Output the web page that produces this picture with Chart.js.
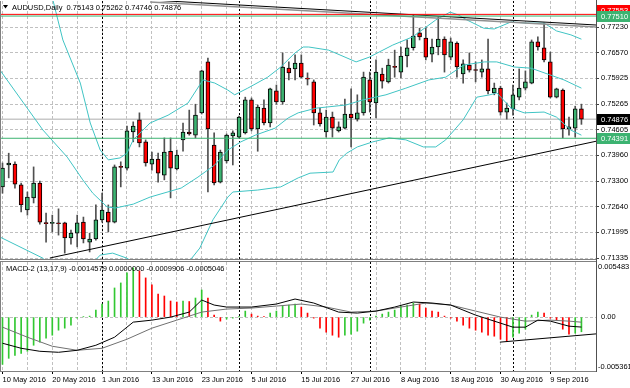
<!DOCTYPE html>
<html lang="en">
<head>
<meta charset="UTF-8">
<title>AUDUSD Daily</title>
<script src="https://cdn.jsdelivr.net/npm/chart.js"></script>
<style>
  html, body { margin: 0; padding: 0; background: #fff; }
  #wrap { position: relative; width: 630px; height: 388px; overflow: hidden; background: #fff; }
  #wrap canvas { position: absolute; left: 0; }
  #priceCanvas { top: 0; }
  #macdCanvas { top: 260px; }
</style>
</head>
<body>
<div id="wrap">
  <canvas id="priceCanvas" width="630" height="260"></canvas>
  <canvas id="macdCanvas" width="630" height="128"></canvas>
</div>
<script>
// daily candles, 10 May 2016 .. 16 Sep 2016 (bar index 0..93)
const opens = [
  0.7315,0.7371,0.7373,0.7320,0.7256,0.7287,0.7325,0.7224,0.7222,0.7223,
  0.7223,0.7185,0.7197,0.7225,0.7174,0.7182,0.7231,0.7251,0.7225,0.7366,
  0.7363,0.7455,0.7486,0.7430,0.7373,0.7386,0.7345,0.7406,0.7361,0.7435,
  0.7455,0.7447,0.7504,0.7634,0.7422,0.7327,0.7381,0.7445,0.7442,0.7453,
  0.7537,0.7463,0.7516,0.7478,0.7560,0.7532,0.7618,0.7616,0.7631,0.7593,
  0.7583,0.7504,0.7455,0.7493,0.7458,0.7465,0.7501,0.7488,0.7504,0.7588,
  0.7529,0.7603,0.7583,0.7621,0.7608,0.7649,0.7670,0.7708,0.7695,0.7654,
  0.7672,0.7692,0.7646,0.7682,0.7603,0.7626,0.7613,0.7608,0.7616,0.7555,
  0.7567,0.7506,0.7514,0.7544,0.7567,0.7580,0.7685,0.7670,0.7634,0.7544,
  0.7562,0.7463,0.7465,0.75143
];
const highs = [
  0.7376,0.7401,0.7379,0.7325,0.7302,0.7366,0.7330,0.7248,0.7243,0.7259,
  0.7225,0.7205,0.7243,0.7238,0.7197,0.7269,0.7299,0.7269,0.7371,0.7379,
  0.7470,0.7481,0.7504,0.7435,0.7404,0.7401,0.7440,0.7440,0.7409,0.7478,
  0.7511,0.7526,0.7613,0.7644,0.7453,0.7409,0.7450,0.7458,0.7496,0.7544,
  0.7542,0.7524,0.7537,0.7567,0.7575,0.7657,0.7634,0.7652,0.7652,0.7606,
  0.7588,0.7516,0.7511,0.7506,0.7481,0.7539,0.7565,0.7550,0.7608,0.7608,
  0.7639,0.7618,0.7641,0.7664,0.7672,0.7690,0.7754,0.7720,0.7723,0.7692,
  0.7748,0.7698,0.7695,0.7685,0.7639,0.7657,0.7634,0.7639,0.7692,0.7580,
  0.7572,0.7529,0.7575,0.7616,0.7611,0.7690,0.7698,0.7733,0.7659,0.7567,
  0.7565,0.7493,0.7521,0.75262
];
const lows = [
  0.7299,0.7338,0.7312,0.7251,0.7243,0.7274,0.7220,0.7174,0.7200,0.7192,
  0.7146,0.7169,0.7162,0.7172,0.7149,0.7179,0.7225,0.7200,0.7223,0.7315,
  0.7358,0.7430,0.7417,0.7368,0.7358,0.7327,0.7333,0.7287,0.7358,0.7406,
  0.7447,0.7440,0.7501,0.7302,0.7320,0.7325,0.7376,0.7371,0.7440,0.7450,
  0.7458,0.7406,0.7473,0.7468,0.7526,0.7526,0.7588,0.7588,0.7593,0.7575,
  0.7473,0.7470,0.7442,0.7442,0.7455,0.7463,0.7417,0.7483,0.7498,0.7506,
  0.7491,0.7567,0.7580,0.7595,0.7593,0.7621,0.7664,0.7690,0.7639,0.7634,
  0.7652,0.7608,0.7639,0.7595,0.7580,0.7608,0.7583,0.7595,0.7552,0.7550,
  0.7498,0.7488,0.7498,0.7537,0.7562,0.7578,0.7664,0.7634,0.7542,0.7542,
  0.7440,0.7447,0.7442,0.74746
];
const closes = [
  0.7363,0.7376,0.7322,0.7269,0.7289,0.7325,0.7225,0.7221,0.7224,0.7221,
  0.7185,0.7197,0.7223,0.7182,0.7182,0.7231,0.7256,0.7225,0.7366,0.7365,
  0.7458,0.7470,0.7427,0.7376,0.7386,0.7350,0.7404,0.7363,0.7396,0.7455,
  0.7450,0.7498,0.7611,0.7463,0.7325,0.7404,0.7447,0.7453,0.7493,0.7537,
  0.7463,0.7519,0.7478,0.7565,0.7532,0.7621,0.7606,0.7631,0.7595,0.7590,
  0.7504,0.7476,0.7493,0.7465,0.7468,0.7501,0.7491,0.7504,0.7595,0.7532,
  0.7608,0.7585,0.7626,0.7620,0.7649,0.7670,0.7700,0.7698,0.7646,0.7672,
  0.7692,0.7652,0.7685,0.7621,0.7629,0.7613,0.7612,0.7616,0.7560,0.7567,
  0.7506,0.7516,0.7550,0.7567,0.7583,0.7685,0.7672,0.7639,0.7544,0.7565,
  0.7463,0.7468,0.7514,0.74876
];

// date labels, one every 8 bars
const dateTickBars = [0, 8, 16, 24, 32, 40, 48, 56, 64, 72, 80, 88];
const dateTicks = ['10 May 2016', '20 May 2016', '1 Jun 2016', '13 Jun 2016', '23 Jun 2016', '5 Jul 2016',
  '15 Jul 2016', '27 Jul 2016', '8 Aug 2016', '18 Aug 2016', '30 Aug 2016', '9 Sep 2016'];
const monthStartBars = [16, 38, 59, 82];
const priceTicks = [0.77230, 0.76570, 0.75925, 0.75265, 0.74605, 0.73960, 0.73300, 0.72640, 0.71995, 0.71335];

// bollinger bands, [bar, price]
const bbUpper = [[-0.4,0.8040],[4,0.7880],[8.1,0.7792],[9.7,0.7690],[12.5,0.7580],[14.1,0.7478],[15.7,0.7409],
  [17,0.7384],[18.9,0.7389],[20,0.7401],[21,0.7435],[23.7,0.7478],[26.6,0.7498],[29.8,0.7529],[32.2,0.7588],
  [34.1,0.7580],[36.2,0.7562],[37.3,0.7550],[39.4,0.7567],[42.6,0.7595],[44.7,0.7621],[47,0.7657],[48.3,0.7672],
  [49.2,0.7672],[52.4,0.7664],[56.8,0.7634],[58.9,0.7646],[62.7,0.7677],[65.9,0.7698],[69.6,0.7741],[71.9,0.7761],
  [73.2,0.7754],[74.6,0.7741],[77.3,0.7720],[79,0.7718],[81.7,0.7736],[84.3,0.7733],[87,0.7733],[89,0.7713],
  [91.3,0.7703],[93,0.7692]];
const bbMiddle = [[-0.4,0.7613],[6.5,0.7460],[10.4,0.7391],[12.9,0.7333],[14.5,0.7299],[16.8,0.7264],[18.1,0.7261],
  [21,0.7271],[23.7,0.7289],[28.7,0.7312],[31.4,0.7340],[34.1,0.7371],[36.2,0.7409],[38.3,0.7430],[40.6,0.7447],
  [43.8,0.7465],[45.9,0.7491],[47.5,0.7504],[50.4,0.7516],[55.2,0.7524],[57.9,0.7537],[61.6,0.7550],[64.8,0.7567],
  [68.5,0.7588],[71.2,0.7595],[74.1,0.7626],[77.4,0.7634],[79.4,0.7634],[82.2,0.7621],[84.9,0.7618],[88.1,0.7600],
  [90.2,0.7588],[93,0.7567]];
const bbLower = [[-0.4,0.7187],[6.5,0.7133],[9,0.7090],[12,0.7080],[15.7,0.7141],[17.7,0.7146],[20,0.7133],
  [23,0.7100],[27,0.7080],[30.4,0.7133],[31.7,0.7159],[33.8,0.7231],[36.2,0.7289],[37,0.7302],[41,0.7307],
  [44.7,0.7315],[47.5,0.7338],[49.4,0.7350],[53.1,0.7353],[54.1,0.7384],[55.3,0.7401],[57,0.7417],[59.5,0.7430],
  [62.1,0.7440],[64.8,0.7435],[67.6,0.7417],[69.6,0.7417],[71.2,0.7435],[74,0.7486],[76.2,0.7544],[78.3,0.7550],
  [79.4,0.7555],[81.7,0.7516],[83.8,0.7504],[87,0.7506],[89,0.7493],[91.3,0.7460],[93,0.7447]];

// drawn objects
const levelRed = 0.77553;
const levelGreenTop = 0.77510;
const levelGreenLow = 0.74391;
const supportLine = [[7.6, 0.71335], [95.5, 0.7432]];
const resistLine = [[23.7, 0.7792], [95.5, 0.7728]];
const resistLine2 = [[23.7, 0.7787], [95.5, 0.7723]];

// MACD-2 (13,17,9)
const histValues = [
  -0.0047,-0.0041,-0.0038,-0.0036,-0.0034,-0.0028,-0.0025,-0.0021,-0.0018,-0.0013,
  -0.0011,-0.0008,-0.0001,0.00003,0.0001,0.0007,0.0013,0.0016,0.0029,0.0034,
  0.0044,0.0049,0.0046,0.0039,0.0032,0.0023,0.0021,0.0016,0.0015,0.0016,
  0.00155,0.0019,0.0027,0.0019,0.0002,-0.0004,-0.0002,-0.0001,0.00002,0.0006,
  0.0003,0.0001,0.00005,0.0004,0.0006,0.0011,0.0012,0.0013,0.0010,0.0004,
  -0.0001,-0.0011,-0.0015,-0.0018,-0.0020,-0.0018,-0.0017,-0.0014,-0.0006,-0.0003,
  0.0001,0.0003,0.0005,0.0007,0.0011,0.0012,0.0014,0.0013,0.0009,0.0006,
  0.0005,0.0001,-0.0001,-0.0004,-0.0008,-0.0011,-0.0013,-0.0015,-0.0018,-0.0019,
  -0.0022,-0.0024,-0.0020,-0.0016,-0.0012,0.0002,0.0005,0.0004,-0.0001,-0.0003,
  -0.0012,-0.0017,-0.0016,-0.0014579
];
const macdMain = [[0,-0.0026],[3,-0.0031],[6,-0.0034],[9,-0.0035],[12,-0.0033],[15,-0.0028],[18,-0.0020],
  [21,-0.0005],[24,-0.0003],[27,0.0000],[30,0.0005],[32,0.0017],[34,0.0012],[36,0.0010],[40,0.0010],[44,0.0013],
  [47,0.0018],[50,0.0014],[54,0.0005],[57,0.0004],[60,0.0006],[63,0.0010],[66,0.0015],[69,0.0014],[72,0.0012],
  [76,0.0002],[80,-0.0006],[82,-0.0010],[84,-0.0010],[86,-0.0003],[88,-0.0004],[91,-0.0009],[93,-0.0009906]];
const macdSignal = [[0,-0.0010],[4,-0.0020],[8,-0.0029],[12,-0.0033],[16,-0.0031],[20,-0.0022],[24,-0.0011],
  [28,-0.0003],[32,0.0005],[36,0.0008],[40,0.0009],[44,0.0011],[48,0.0013],[52,0.0010],[56,0.0005],[60,0.0006],
  [64,0.0010],[68,0.0014],[72,0.0012],[76,0.0006],[80,0.0000],[84,-0.0004],[88,-0.0003],[91,-0.0004],[93,-0.0005046]];
const macdTrend = [[79.9, -0.00249], [95.5, -0.00166]];
const macdMax = 0.005483;
const macdMin = -0.005361;

// ---- layout / style ----
const X_MIN = -0.4, X_MAX = 95.34;
const P_MIN = 0.71310, P_MAX = 0.77894;
const FONT_FAMILY = '"Liberation Sans", Arial, sans-serif';
const FONT = '7.5px ' + FONT_FAMILY;
const GREEN = '#3cb371';
const BAND = '#40c4c4';
const GRID = '#c0c0c0';

Chart.defaults.font.family = FONT_FAMILY;
Chart.defaults.font.size = 7.5;
Chart.defaults.color = '#000';

const pts = arr => arr.map(([x, y]) => ({x, y}));
const hline = v => [{x: X_MIN, y: v}, {x: X_MAX, y: v}];
const lineDs = (data, color, order, width) => ({
  type: 'line', data, borderColor: color, borderWidth: width || 1, pointRadius: 0,
  tension: 0, fill: false, order
});
const gridBars = [];
for (let b = 0; b <= 92; b += 4) gridBars.push(b);

function drawSeparators(chart) {
  const {ctx, chartArea: a, scales: {x}} = chart;
  ctx.save();
  ctx.strokeStyle = '#000';
  ctx.lineWidth = 1;
  ctx.setLineDash([2, 2]);
  monthStartBars.forEach(b => {
    const px = Math.round(x.getPixelForValue(b)) + 0.5;
    ctx.beginPath(); ctx.moveTo(px, a.top); ctx.lineTo(px, a.bottom); ctx.stroke();
  });
  ctx.restore();
}

function drawFrame(ctx, a, withTop) {
  ctx.save();
  ctx.strokeStyle = '#808080';
  ctx.lineWidth = 1;
  ctx.beginPath();
  ctx.moveTo(0.5, a.top); ctx.lineTo(0.5, a.bottom);
  ctx.moveTo(0, Math.round(a.bottom) + 0.5); ctx.lineTo(a.right, Math.round(a.bottom) + 0.5);
  if (withTop) { ctx.moveTo(0, Math.round(a.top) - 0.5); ctx.lineTo(a.right, Math.round(a.top) - 0.5); }
  ctx.stroke();
  ctx.strokeStyle = '#505050';
  ctx.beginPath();
  ctx.moveTo(Math.round(a.right) + 0.5, 0); ctx.lineTo(Math.round(a.right) + 0.5, a.bottom + 1);
  ctx.stroke();
  ctx.restore();
}

const priceDecor = {
  id: 'priceDecor',
  beforeDatasetsDraw(chart) { drawSeparators(chart); },
  afterDraw(chart) {
    const {ctx, chartArea: a, scales: {y}} = chart;
    drawFrame(ctx, a, false);
    ctx.save();
    // header
    ctx.fillStyle = '#000';
    ctx.beginPath(); ctx.moveTo(3, 5); ctx.lineTo(8, 5); ctx.lineTo(5.5, 8.5); ctx.closePath(); ctx.fill();
    ctx.font = FONT;
    ctx.textAlign = 'left';
    ctx.textBaseline = 'middle';
    const n = closes.length - 1;
    const head = 'AUDUSD,Daily  ' + [opens[n], highs[n], lows[n], closes[n]].map(v => v.toFixed(5)).join(' ');
    ctx.fillText(head, 12, 7.5);
    // price boxes on the axis
    const greenTopY = y.getPixelForValue(levelGreenTop);
    const boxes = [
      {v: levelRed, bg: '#ff0000', py: Math.min(y.getPixelForValue(levelRed), greenTopY - 6)},
      {v: levelGreenTop, bg: GREEN, py: greenTopY},
      {v: closes[n], bg: '#000', py: y.getPixelForValue(closes[n])},
      {v: levelGreenLow, bg: GREEN, py: y.getPixelForValue(levelGreenLow)}
    ];
    boxes.forEach(b => {
      ctx.fillStyle = b.bg;
      ctx.fillRect(a.right + 1, Math.round(b.py) - 5, 34, 11);
      ctx.fillStyle = '#fff';
      ctx.fillText(b.v.toFixed(5), a.right + 5, Math.round(b.py) + 0.5);
    });
    ctx.restore();
  }
};

const macdDecor = {
  id: 'macdDecor',
  beforeDatasetsDraw(chart) { drawSeparators(chart); },
  afterDraw(chart) {
    const {ctx, chartArea: a, scales: {y}} = chart;
    drawFrame(ctx, a, true);
    ctx.save();
    ctx.font = FONT;
    ctx.fillStyle = '#000';
    ctx.textAlign = 'left';
    ctx.textBaseline = 'middle';
    const last = v => v.toFixed(7);
    const title = 'MACD-2 (13,17,9) ' + last(histValues[histValues.length - 1]) + ' ' + last(0) + ' ' +
      last(macdMain[macdMain.length - 1][1]) + ' ' + last(macdSignal[macdSignal.length - 1][1]);
    ctx.fillText(title, 6, 9);
    ctx.fillText(macdMax.toFixed(6), a.right + 2, y.getPixelForValue(macdMax) + 5);
    ctx.fillText('0.00', a.right + 5, y.getPixelForValue(0));
    ctx.fillText(macdMin.toFixed(6), a.right + 2, y.getPixelForValue(macdMin) - 4);
    ctx.restore();
  }
};

const candleColor = i => closes[i] >= opens[i] ? GREEN : '#ff0000';

new Chart(document.getElementById('priceCanvas'), {
  type: 'bar',
  data: {
    datasets: [
      lineDs(hline(levelRed), '#ff0000', 0),
      lineDs(hline(levelGreenTop), GREEN, 0),
      lineDs(hline(levelGreenLow), GREEN, 0),
      lineDs(pts(supportLine), '#000', 0),
      lineDs(pts(resistLine2), '#909090', 0, 1.5),
      lineDs(pts(resistLine), '#000', 0),
      lineDs(pts(bbUpper), BAND, 1),
      lineDs(pts(bbMiddle), BAND, 1),
      lineDs(pts(bbLower), BAND, 1),
      {
        type: 'bar',
        data: opens.map((o, i) => ({x: i, y: [opens[i], closes[i]]})),
        backgroundColor: ctx => candleColor(ctx.dataIndex),
        borderColor: '#000', borderWidth: 1, borderSkipped: false,
        barThickness: 4, minBarLength: 1, grouped: false, order: 2
      },
      {
        type: 'bar',
        data: opens.map((o, i) => ({x: i, y: [lows[i], highs[i]]})),
        backgroundColor: '#505050', barThickness: 1, grouped: false, order: 3
      },
      lineDs(hline(closes[closes.length - 1]), '#c8c8c8', 4, 1.5)
    ]
  },
  options: {
    responsive: false,
    animation: false,
    events: [],
    layout: {padding: {top: 1, bottom: 1, left: 0, right: 0}},
    plugins: {legend: {display: false}, tooltip: {enabled: false}},
    scales: {
      x: {
        type: 'linear', min: X_MIN, max: X_MAX, offset: false,
        ticks: {display: false},
        grid: {color: GRID, drawTicks: false, offset: false},
        border: {display: false, dash: [3, 2]},
        afterBuildTicks: s => { s.ticks = gridBars.map(v => ({value: v})); },
        afterFit: s => { s.height = 0; s.paddingLeft = 0; s.paddingRight = 0; }
      },
      y: {
        position: 'right', min: P_MIN, max: P_MAX,
        ticks: {callback: v => v.toFixed(5), padding: 2, color: '#000'},
        grid: {color: GRID, tickLength: 3, tickColor: '#404040'},
        border: {display: false, dash: [3, 2]},
        afterBuildTicks: s => { s.ticks = priceTicks.map(v => ({value: v})); },
        afterFit: s => { s.width = 34; s.paddingTop = 0; s.paddingBottom = 0; }
      }
    }
  },
  plugins: [priceDecor]
});

const dateAt = new Map(dateTickBars.map((b, k) => [b, dateTicks[k]]));

new Chart(document.getElementById('macdCanvas'), {
  type: 'bar',
  data: {
    datasets: [
      lineDs(pts(macdTrend), '#000', 0),
      lineDs(pts(macdMain), '#000', 1),
      lineDs(pts(macdSignal), '#707070', 1),
      {
        type: 'bar',
        data: histValues.map((v, i) => ({x: i, y: v})),
        backgroundColor: ctx => {
          const i = ctx.dataIndex;
          return (i === 0 || histValues[i] >= histValues[i - 1]) ? '#32c832' : '#ff0000';
        },
        barThickness: 1, grouped: false, order: 2
      }
    ]
  },
  options: {
    responsive: false,
    animation: false,
    events: [],
    layout: {padding: {top: 2, bottom: 0, left: 0, right: 0}},
    plugins: {legend: {display: false}, tooltip: {enabled: false}},
    scales: {
      x: {
        type: 'linear', min: X_MIN, max: X_MAX, offset: false,
        ticks: {
          autoSkip: false, maxRotation: 0, minRotation: 0, align: 'start', padding: 1, color: '#000',
          callback: v => dateAt.get(v) || ''
        },
        grid: {
          color: GRID, offset: false, tickLength: 3,
          tickColor: c => (c.tick && dateAt.has(c.tick.value)) ? '#000' : 'rgba(0,0,0,0)'
        },
        border: {display: false, dash: [3, 2]},
        afterBuildTicks: s => { s.ticks = gridBars.map(v => ({value: v})); },
        afterFit: s => { s.height = 17; s.paddingLeft = 0; s.paddingRight = 0; }
      },
      y: {
        position: 'right', min: macdMin, max: macdMax,
        ticks: {display: false},
        grid: {color: GRID, drawTicks: false},
        border: {display: false, dash: [3, 2]},
        afterBuildTicks: s => { s.ticks = [{value: 0}]; },
        afterFit: s => { s.width = 34; s.paddingTop = 0; s.paddingBottom = 0; }
      }
    }
  },
  plugins: [macdDecor]
});
</script>
</body>
</html>
